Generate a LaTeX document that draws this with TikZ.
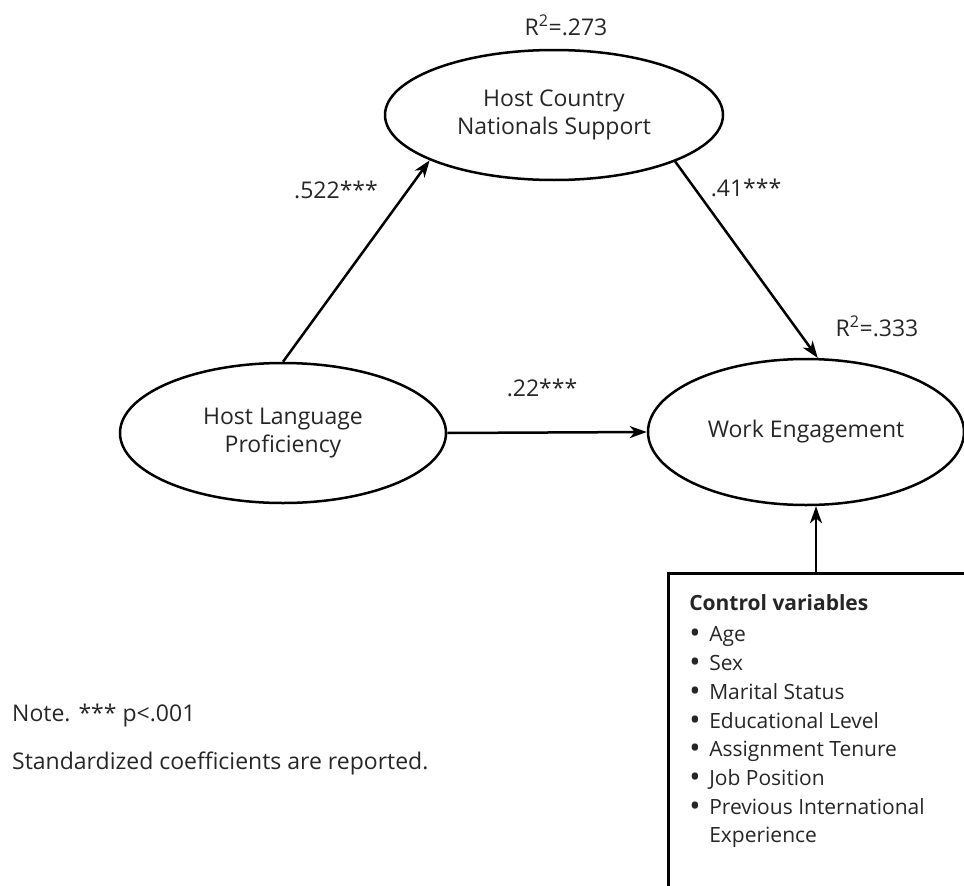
\documentclass[tikz,border=0pt]{standalone}
\usepackage{fontspec}
\setmainfont{Open Sans}
\usetikzlibrary{shapes.geometric,arrows.meta}
\begin{document}
\begin{tikzpicture}[x=1pt, y=-1pt,
        every node/.style = {font=\fontsize{23}{28}\selectfont, text=black!85},
        construct/.style = {draw, ellipse, line width=2.5pt, align=center, inner sep=0pt},
        effect/.style = {line width=2.5pt, -{Stealth[length=17pt, width=12pt, inset=5pt]}},
        ctrlbox/.style = {draw, line width=2.5pt, anchor=north west, inner xsep=21pt, inner ysep=21pt},
        note/.style = {anchor=west, inner xsep=0pt}
        ]
    \useasboundingbox (0,0) rectangle (964,886);
    \clip (0,0) rectangle (964,886);
    \node[construct, minimum width=338pt, minimum height=130pt] (hcn) at (554,115) {Host Country\\Nationals Support};
    \node[construct, minimum width=326pt, minimum height=140pt] (hlp) at (283,433) {Host Language\\Proficiency};
    \node[construct, minimum width=316pt, minimum height=146pt] (we) at (806,432) {Work Engagement};
    \node[ctrlbox] (ctrl) at (667,572) {\parbox[t][330pt][t]{320pt}{\fontsize{21}{28.7}\selectfont
            {\bfseries Control variables}\\[3pt]
            \makebox[20pt][l]{\raisebox{-2pt}{\fontsize{30}{30}\selectfont\textbullet}}Age\\
            \makebox[20pt][l]{\raisebox{-2pt}{\fontsize{30}{30}\selectfont\textbullet}}Sex\\
            \makebox[20pt][l]{\raisebox{-2pt}{\fontsize{30}{30}\selectfont\textbullet}}Marital Status\\
            \makebox[20pt][l]{\raisebox{-2pt}{\fontsize{30}{30}\selectfont\textbullet}}Educational Level\\
            \makebox[20pt][l]{\raisebox{-2pt}{\fontsize{30}{30}\selectfont\textbullet}}Assignment Tenure\\
            \makebox[20pt][l]{\raisebox{-2pt}{\fontsize{30}{30}\selectfont\textbullet}}Job Position\\
            \makebox[20pt][l]{\raisebox{-2pt}{\fontsize{30}{30}\selectfont\textbullet}}Previous International\\
            \hspace*{20pt}Experience}};
    \coordinate (ctop) at ([xshift=149pt]ctrl.north west);

    \draw[effect] (hlp.north) -- (hcn.200);
    \draw[effect] (hcn.339) -- (we.81);
    \draw[effect] (hlp.east) -- (we.west);
    \draw[effect] (ctop) -- (ctop |- we.south);

    \node (r2hcn) at (566,25) {R\textsuperscript{2}=.273};
    \node (r2we) at (877,326) {R\textsuperscript{2}=.333};
    \node (coefa) at (336,190) {.522***};
    \node (coefb) at (746,188) {.41***};
    \node (coefc) at (542,388) {.22***};
    \node[note] (notea) at (12,716) {Note. *** p<.001};
    \node[note] (noteb) at (12,763) {Standardized coefficients are reported.};
\end{tikzpicture}
\end{document}
